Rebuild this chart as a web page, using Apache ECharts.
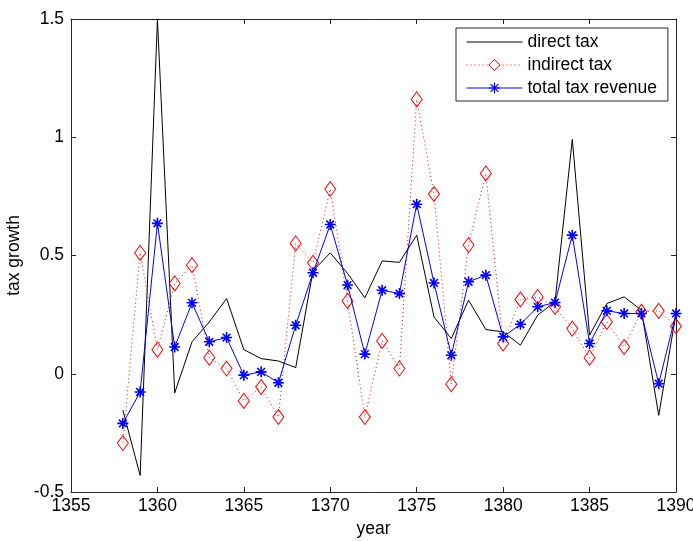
<!DOCTYPE html>
<html>
<head>
<meta charset="utf-8">
<script src="https://cdn.jsdelivr.net/npm/echarts@6/dist/echarts.min.js"></script>
<style>
  html, body { margin: 0; padding: 0; background: #fff; }
  #chart { width: 693px; height: 541px; }
</style>
</head>
<body>
<div id="chart"></div>
<script>
// years 1358 .. 1390
var years = [];
for (var y = 1358; y <= 1390; y++) years.push(y);

var directTax = [-0.154, -0.43, 1.5, -0.081, 0.135, 0.219, 0.318, 0.102, 0.064, 0.054,
  0.026, 0.435, 0.511, 0.424, 0.321, 0.477, 0.471, 0.586, 0.24, 0.149,
  0.311, 0.187, 0.177, 0.121, 0.248, 0.304, 0.991, 0.163, 0.297, 0.325,
  0.269, -0.176, 0.255];

var indirectTax = [-0.293, 0.511, 0.102, 0.382, 0.459, 0.068, 0.022, -0.115, -0.056, -0.183,
  0.551, 0.469, 0.781, 0.308, -0.183, 0.139, 0.022, 1.16, 0.76, -0.044,
  0.544, 0.847, 0.128, 0.314, 0.325, 0.283, 0.191, 0.068, 0.219, 0.113,
  0.262, 0.266, 0.201];

var totalTax = [-0.21, -0.077, 0.636, 0.113, 0.3, 0.135, 0.153, -0.006, 0.008, -0.038,
  0.205, 0.427, 0.631, 0.375, 0.083, 0.353, 0.339, 0.717, 0.384, 0.078,
  0.389, 0.417, 0.156, 0.209, 0.283, 0.301, 0.586, 0.128, 0.266, 0.255,
  0.255, -0.042, 0.255];

var xTicks = [1355, 1360, 1365, 1370, 1375, 1380, 1385, 1390];
var yTicks = [-0.5, 0, 0.5, 1, 1.5];

function pairs(vals) {
  return years.map(function (yr, i) { return [yr, vals[i]]; });
}

var font = 'Liberation Sans, Arial, sans-serif';
var fs = 17.5;
var axisCol = '#262626';
var star = 'path://M5,0 L5,10 M0,5 L10,5 M1.5,1.5 L8.5,8.5 M8.5,1.5 L1.5,8.5';
var diamond = 'path://M5,0 L10,7.5 L5,15 L0,7.5 Z';

var chart = echarts.init(document.getElementById('chart'));
var option = {
  animation: false,
  backgroundColor: '#fff',
  textStyle: { fontFamily: font },
  grid: { left: 71, right: 17, top: 19, bottom: 49, outerBoundsMode: 'none' },
  legend: {
    orient: 'vertical',
    left: 456, top: 28,
    padding: [5, 11, 4, 10],
    itemGap: 5,
    itemWidth: 56, itemHeight: 14,
    borderColor: axisCol, borderWidth: 1, borderRadius: 0,
    backgroundColor: '#fff',
    textStyle: { fontSize: fs, color: '#000', fontFamily: font },
    data: [
      { name: 'direct tax', lineStyle: { color: '#000', width: 1 } },
      { name: 'indirect tax',
        lineStyle: { color: '#ff0000', width: 1, type: [1, 3] },
        itemStyle: { color: '#fff', borderColor: '#ff0000', borderWidth: 1 } },
      { name: 'total tax revenue',
        lineStyle: { color: '#0000ff', width: 1 },
        itemStyle: { color: 'transparent', borderColor: '#0000ff', borderWidth: 1.2 } }
    ]
  },
  xAxis: [{
    type: 'value', min: 1355, max: 1390, interval: 5,
    name: 'year', nameLocation: 'middle', nameGap: 27,
    nameTextStyle: { fontSize: fs, color: '#000' },
    axisLine: { onZero: false, lineStyle: { color: axisCol } },
    axisTick: { inside: true, length: 5, lineStyle: { color: axisCol } },
    axisLabel: { fontSize: fs, color: '#000', margin: 5,
      formatter: function (v) { return String(v); } },
    splitLine: { show: false }
  }, {
    type: 'value', min: 1355, max: 1390, interval: 5, position: 'top',
    axisLine: { onZero: false, lineStyle: { color: axisCol } },
    axisTick: { inside: true, length: 5, lineStyle: { color: axisCol } },
    axisLabel: { show: false },
    splitLine: { show: false }
  }],
  yAxis: [{
    type: 'value', min: -0.5, max: 1.5, interval: 0.5,
    name: 'tax growth', nameLocation: 'middle', nameGap: 46,
    nameTextStyle: { fontSize: fs, color: '#000' },
    axisLine: { show: true, onZero: false, lineStyle: { color: axisCol } },
    axisTick: { show: true, inside: true, length: 5, lineStyle: { color: axisCol } },
    axisLabel: { fontSize: fs, color: '#000', margin: 7,
      formatter: function (v) { return String(v); } },
    splitLine: { show: false }
  }, {
    type: 'value', min: -0.5, max: 1.5, interval: 0.5, position: 'right',
    axisLine: { show: true, onZero: false, lineStyle: { color: axisCol } },
    axisTick: { show: true, inside: true, length: 5, lineStyle: { color: axisCol } },
    axisLabel: { show: false },
    splitLine: { show: false }
  }],
  series: [{
    name: 'direct tax',
    type: 'line',
    data: pairs(directTax),
    symbol: 'circle',
    showSymbol: false,
    lineStyle: { color: '#000', width: 1 },
    itemStyle: { color: 'transparent', borderWidth: 0 },
    z: 2
  }, {
    name: 'indirect tax',
    type: 'line',
    data: pairs(indirectTax),
    symbol: diamond,
    symbolSize: [11, 15],
    showAllSymbol: true,
    lineStyle: { color: '#ff0000', width: 1, type: [1, 3] },
    itemStyle: { color: 'transparent', borderColor: '#ff0000', borderWidth: 1 },
    z: 3
  }, {
    name: 'total tax revenue',
    type: 'line',
    data: pairs(totalTax),
    symbol: star,
    symbolSize: 11,
    showAllSymbol: true,
    lineStyle: { color: '#0000ff', width: 1 },
    itemStyle: { color: 'transparent', borderColor: '#0000ff', borderWidth: 1.6 },
    z: 4
  }]
};
chart.setOption(option);
</script>
</body>
</html>
